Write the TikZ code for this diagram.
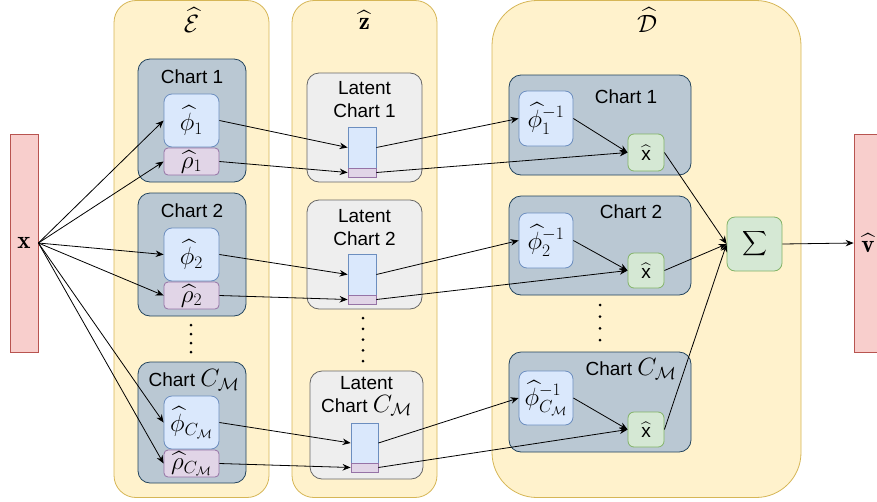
\RequirePackage{fix-cm}
\documentclass[tikz,border=0pt]{standalone}
\usepackage{amsmath}
\usepackage{fontspec}
\setsansfont{Liberation Sans}
\usetikzlibrary{arrows.meta}

\definecolor{panelfill}{HTML}{FFF2CC}
\definecolor{panelline}{HTML}{D6B656}
\definecolor{chartfill}{HTML}{BAC8D3}
\definecolor{chartline}{HTML}{23445D}
\definecolor{phifill}{HTML}{DAE8FC}
\definecolor{philine}{HTML}{6C8EBF}
\definecolor{rhofill}{HTML}{E1D5E7}
\definecolor{rholine}{HTML}{9673A6}
\definecolor{latfill}{HTML}{EEEEEE}
\definecolor{latline}{HTML}{666666}
\definecolor{sumfill}{HTML}{D5E8D4}
\definecolor{sumline}{HTML}{82B366}
\definecolor{iofill}{HTML}{F8CECC}
\definecolor{ioline}{HTML}{B85450}

\newcommand{\bigmath}{\fontsize{25}{30}\selectfont}
\newcommand{\CM}{{\bigmath$C_{\mathcal{M}}$}}

\begin{document}
\begin{tikzpicture}[x=1pt, y=-1pt,
  every node/.style={inner sep=0pt, font=\sffamily\fontsize{19}{23}\selectfont},
  mth/.style={font=\bigmath},
  panel/.style={draw=panelline, fill=panelfill, line width=0.8pt, rounded corners=22pt, minimum height=497},
  chartbox/.style={draw=chartline, fill=chartfill, line width=0.8pt, rounded corners=12pt},
  phibox/.style={draw=philine, fill=phifill, line width=0.8pt, rounded corners=8pt, font=\bigmath},
  rhobox/.style={draw=rholine, fill=rhofill, line width=0.8pt, rounded corners=4pt, font=\bigmath},
  latbox/.style={draw=latline, fill=latfill, line width=0.8pt, rounded corners=12pt},
  sumbox/.style={draw=sumline, fill=sumfill, line width=0.8pt, rounded corners=6pt},
  iobox/.style={draw=ioline, fill=iofill, line width=0.8pt, minimum width=28, minimum height=218, font=\bigmath},
  link/.style={-{Stealth[length=8pt,width=6.5pt]}, line width=0.8pt},
  vdots/.style={line width=3pt, line cap=round, dash pattern=on 0pt off #1}]
\useasboundingbox (0,0) rectangle (877,501);

% panels
\node[panel, minimum width=155] (enc) at (191.5,249) {};
\node[panel, minimum width=145] (lat) at (364.5,249) {};
\node[panel, minimum width=309, rounded corners=45pt] (dec) at (646.5,249) {};
\node[mth] (enct) at (191.5,20) {$\widehat{\mathcal{E}}$};
\node[mth] (latt) at (364.5,20) {$\widehat{\mathbf{z}}$};
\node[mth] (dect) at (647,20) {$\widehat{\mathcal{D}}$};

% input and output
\node[iobox] (xin) at (24,243) {$\mathbf{x}$};
\node[iobox] (vout) at (868,243) {$\widehat{\mathbf{v}}$};

% encoder
\node[chartbox, minimum width=108, minimum height=123] (ec1) at (192,120.5) {};
\node[chartbox, minimum width=108, minimum height=123] (ec2) at (192,254.5) {};
\node[chartbox, minimum width=108, minimum height=121] (ecm) at (192,422.5) {};
\node (ec1t) at (192,77) {Chart 1};
\node (ec2t) at (192,211) {Chart 2};
\node (ecmt) at (194,380) {Chart \CM};
\node[phibox, minimum width=55, minimum height=53] (ephi1) at (191.5,120.5) {$\widehat{\phi}_1$};
\node[rhobox, minimum width=55, minimum height=27] (erho1) at (191.5,161.5) {$\widehat{\rho}_1$};
\node[phibox, minimum width=55, minimum height=53] (ephi2) at (191.5,254.5) {$\widehat{\phi}_2$};
\node[rhobox, minimum width=55, minimum height=27] (erho2) at (191.5,295.5) {$\widehat{\rho}_2$};
\node[phibox, minimum width=55, minimum height=53] (ephim) at (191.5,422.5) {$\widehat{\phi}_{C_{\mathcal{M}}}$};
\node[rhobox, minimum width=55, minimum height=27] (erhom) at (191.5,463.5) {$\widehat{\rho}_{C_{\mathcal{M}}}$};
\draw[vdots=9pt] (191,325) -- (191,352.1);

% latent
\node[latbox, minimum width=115, minimum height=109] (lc1) at (364.5,127.5) {};
\node[latbox, minimum width=115, minimum height=109] (lc2) at (364.5,254.5) {};
\node[latbox, minimum width=113, minimum height=108] (lcm) at (366.5,425) {};
\node[align=center] (lc1t) at (364.5,100) {Latent\\Chart 1};
\node[align=center] (lc2t) at (364.5,228) {Latent\\Chart 2};
\node[align=center] (lcmt) at (366.5,396) {Latent\\Chart \CM};
\node[phibox, rounded corners=0pt, minimum width=28, minimum height=41] (lb1) at (362,147.5) {};
\node[rhobox, rounded corners=0pt, minimum width=28, minimum height=9] (lp1) at (362,172.5) {};
\node[phibox, rounded corners=0pt, minimum width=28, minimum height=41] (lb2) at (362,274.5) {};
\node[rhobox, rounded corners=0pt, minimum width=28, minimum height=9] (lp2) at (362,299.5) {};
\node[phibox, rounded corners=0pt, minimum width=27, minimum height=40] (lbm) at (364.5,443) {};
\node[rhobox, rounded corners=0pt, minimum width=27, minimum height=9] (lpm) at (364.5,467.5) {};
\draw[vdots=10.75pt] (363,318) -- (363,361.1);

% decoder
\node[chartbox, minimum width=182, minimum height=100] (dc1) at (600,125) {};
\node[chartbox, minimum width=182, minimum height=99] (dc2) at (600,245.5) {};
\node[chartbox, minimum width=182, minimum height=100] (dcm) at (600,402) {};
\node (dc1t) at (626,97) {Chart 1};
\node (dc2t) at (631,212) {Chart 2};
\node (dcmt) at (631,369) {Chart \CM};
\node[phibox, minimum width=54, minimum height=55] (dphi1) at (546,118.5) {$\widehat{\phi}^{-1}_1$};
\node[phibox, minimum width=54, minimum height=55] (dphi2) at (546,240.5) {$\widehat{\phi}^{-1}_2$};
\node[phibox, minimum width=54, minimum height=54] (dphim) at (546,398) {$\widehat{\phi}^{-1}_{C_{\mathcal{M}}}$};
\node[sumbox, minimum width=36, minimum height=37] (dx1) at (646,152.5) {$\widehat{\textsf{x}}$};
\node[sumbox, minimum width=36, minimum height=35] (dx2) at (646,270.5) {$\widehat{\textsf{x}}$};
\node[sumbox, minimum width=36, minimum height=35] (dxm) at (646,429.5) {$\widehat{\textsf{x}}$};
\node[sumbox, minimum width=55, minimum height=54, rounded corners=8pt] (sum) at (754.5,244) {$\displaystyle\sum$};
\draw[vdots=11.67pt] (600,305) -- (600,340.1);

% links
\foreach \n in {ephi1,erho1,ephi2,erho2,ephim,erhom}
  \draw[link] (xin.east) -- (\n.west);
\draw[link] (ephi1.east) -- (lb1.west);
\draw[link] (erho1.east) -- (lp1.west);
\draw[link] (ephi2.east) -- (lb2.west);
\draw[link] (erho2.east) -- (lp2.west);
\draw[link] (ephim.east) -- (lbm.west);
\draw[link] (erhom.east) -- (lpm.west);
\draw[link] (lb1.east) -- (dphi1.west);
\draw[link] (lp1.east) -- (dx1.west);
\draw[link] (lb2.east) -- (dphi2.west);
\draw[link] (lp2.east) -- (dx2.west);
\draw[link] (lbm.east) -- (dphim.west);
\draw[link] (lpm.east) -- (dxm.west);
\draw[link] (dphi1.east) -- (dx1.west);
\draw[link] (dphi2.east) -- (dx2.west);
\draw[link] (dphim.east) -- (dxm.west);
\draw[link] (dx1.east) -- (sum.west);
\draw[link] (dx2.east) -- (sum.west);
\draw[link] (dxm.east) -- (sum.west);
\draw[link] (sum.east) -- (vout.west);
\end{tikzpicture}
\end{document}
